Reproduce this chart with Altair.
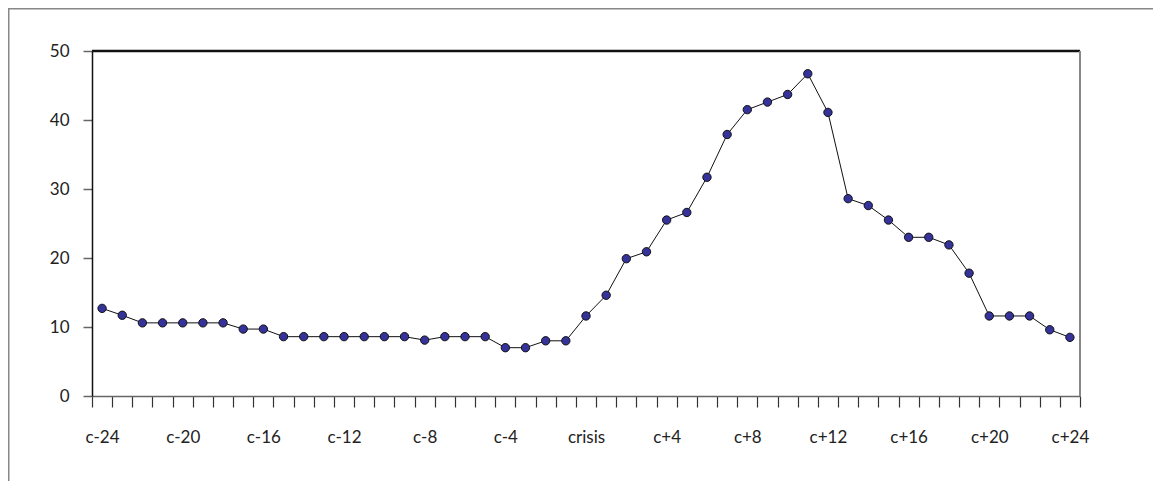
import json
import altair as alt
import pandas as pd

# ---- data ----
periods = ([f"c-{i}" for i in range(24, 0, -1)] + ["crisis"] +
           [f"c+{i}" for i in range(1, 25)])
values = [12.7, 11.7, 10.6, 10.6, 10.6, 10.6, 10.6, 9.7, 9.7,
          8.6, 8.6, 8.6, 8.6, 8.6, 8.6, 8.6, 8.1, 8.6, 8.6, 8.6,
          7.0, 7.0, 8.0, 8.0,
          11.6,
          14.6, 19.9, 20.9, 25.5, 26.6, 31.7, 37.9, 41.5, 42.6, 43.7,
          46.7, 41.1, 28.6, 27.6, 25.5, 23.0, 23.0, 21.9, 17.8,
          11.6, 11.6, 11.6, 9.6, 8.5]
shown_labels = ["c-24", "c-20", "c-16", "c-12", "c-8", "c-4", "crisis",
                "c+4", "c+8", "c+12", "c+16", "c+20", "c+24"]
y_ticks = [0, 10, 20, 30, 40, 50]

df = pd.DataFrame({"period": periods, "value": values})

W, H = 988, 345
PAD = {"left": 84, "top": 43, "right": 73, "bottom": 85}
FONT = "Lato"

label_expr = f"indexof({json.dumps(shown_labels)}, datum.label) >= 0 ? datum.label : ''"

x_enc = alt.X(
    "period:N", sort=periods, bandPosition=0.5,
    scale=alt.Scale(type="band", paddingInner=0, paddingOuter=0),
    axis=alt.Axis(title=None, labelAngle=0, tickBand="extent", tickSize=11,
                  labelPadding=22, labelExpr=label_expr, labelOverlap=False,
                  labelFont=FONT, labelFontSize=17, labelColor="#222",
                  domainColor="#666", domainWidth=1.5, tickColor="#333",
                  tickWidth=1.2, grid=False),
)
y_enc = alt.Y(
    "value:Q", scale=alt.Scale(domain=[0, 50], nice=False, zero=True),
    axis=alt.Axis(title=None, values=y_ticks, tickSize=9, labelPadding=14,
                  labelFont=FONT, labelFontSize=17, labelColor="#222",
                  domainColor="#111", domainWidth=1.5, tickColor="#666",
                  tickWidth=1.5, grid=False),
)

base = alt.Chart(df)
line = base.mark_line(color="#111", strokeWidth=1).encode(x=x_enc, y=y_enc)
pts = base.mark_point(filled=True, shape="circle", size=70, fill="#35339a",
                      stroke="#111", strokeWidth=1, opacity=1).encode(x=x_enc, y=y_enc)

one = pd.DataFrame({"k": [0]})
frame = alt.Chart(one)
top_rule = frame.mark_rule(color="#111", strokeWidth=2.5).encode(
    x=alt.value(0), x2=alt.value(W), y=alt.value(0))
right_rule = frame.mark_rule(color="#888", strokeWidth=2).encode(
    x=alt.value(W), y=alt.value(0), y2=alt.value(H))
outer_top = frame.mark_rule(color="#888", strokeWidth=1.5).encode(
    x=alt.value(-PAD["left"]), x2=alt.value(W + PAD["right"]), y=alt.value(-PAD["top"] + 0.75))
outer_left = frame.mark_rule(color="#888", strokeWidth=1.5).encode(
    x=alt.value(-PAD["left"] + 0.75), y=alt.value(-PAD["top"]), y2=alt.value(H + PAD["bottom"]))

chart = alt.layer(outer_top, outer_left, top_rule, right_rule, line, pts).properties(
    width=W, height=H, padding=PAD,
    autosize=alt.AutoSizeParams(type="none"),
).configure_view(stroke=None).configure(background="white")

chart.save("out.html", embed_options={"renderer": "svg", "actions": False})
